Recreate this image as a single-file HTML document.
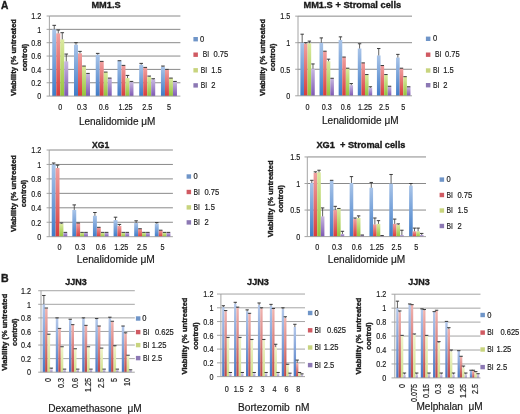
<!DOCTYPE html>
<html><head><meta charset="utf-8"><style>
html,body{margin:0;padding:0;background:#fff;}
svg{display:block;filter:blur(0.3px);}
text{font-family:"Liberation Sans", sans-serif;fill:#1a1a1a;stroke:#1a1a1a;stroke-width:0.18px;}
text[font-weight=bold]{stroke-width:0.35px;}
</style></head><body>
<svg width="520" height="414" viewBox="0 0 520 414">
<rect width="520" height="414" fill="#fff"/>
<defs>
<linearGradient id="gb" x1="0" y1="0" x2="0" y2="1"><stop offset="0" stop-color="#a9c4e8"/><stop offset="1" stop-color="#3f7cc8"/></linearGradient>
<linearGradient id="gr" x1="0" y1="0" x2="0" y2="1"><stop offset="0" stop-color="#f0a0a0"/><stop offset="1" stop-color="#d83c3c"/></linearGradient>
<linearGradient id="gg" x1="0" y1="0" x2="0" y2="1"><stop offset="0" stop-color="#dbe9a0"/><stop offset="1" stop-color="#94c43a"/></linearGradient>
<linearGradient id="gp" x1="0" y1="0" x2="0" y2="1"><stop offset="0" stop-color="#c8b8e0"/><stop offset="1" stop-color="#7e58b4"/></linearGradient>
<linearGradient id="bgb" x1="0" y1="0" x2="0" y2="1"><stop offset="0" stop-color="#b4c8ea"/><stop offset="1" stop-color="#4a78c4"/></linearGradient>
<linearGradient id="bgr" x1="0" y1="0" x2="0" y2="1"><stop offset="0" stop-color="#f0b4b0"/><stop offset="1" stop-color="#c04848"/></linearGradient>
<linearGradient id="bgg" x1="0" y1="0" x2="0" y2="1"><stop offset="0" stop-color="#f0f4cc"/><stop offset="1" stop-color="#cfe08a"/></linearGradient>
<linearGradient id="bgp" x1="0" y1="0" x2="0" y2="1"><stop offset="0" stop-color="#dcd4ea"/><stop offset="1" stop-color="#a292c6"/></linearGradient>
</defs>
<line x1="46.6" y1="96.1" x2="49.38" y2="96.1" stroke="#9a9a9a" stroke-width="0.9"/>
<line x1="49.38" y1="82.75" x2="180.4" y2="82.75" stroke="#8a8a8a" stroke-width="1"/>
<line x1="46.6" y1="82.75" x2="49.38" y2="82.75" stroke="#9a9a9a" stroke-width="0.9"/>
<line x1="49.38" y1="69.4" x2="180.4" y2="69.4" stroke="#8a8a8a" stroke-width="1"/>
<line x1="46.6" y1="69.4" x2="49.38" y2="69.4" stroke="#9a9a9a" stroke-width="0.9"/>
<line x1="49.38" y1="56.05" x2="180.4" y2="56.05" stroke="#8a8a8a" stroke-width="1"/>
<line x1="46.6" y1="56.05" x2="49.38" y2="56.05" stroke="#9a9a9a" stroke-width="0.9"/>
<line x1="49.38" y1="42.7" x2="180.4" y2="42.7" stroke="#8a8a8a" stroke-width="1"/>
<line x1="46.6" y1="42.7" x2="49.38" y2="42.7" stroke="#9a9a9a" stroke-width="0.9"/>
<line x1="49.38" y1="29.35" x2="180.4" y2="29.35" stroke="#8a8a8a" stroke-width="1"/>
<line x1="46.6" y1="29.35" x2="49.38" y2="29.35" stroke="#9a9a9a" stroke-width="0.9"/>
<line x1="49.38" y1="16" x2="180.4" y2="16" stroke="#8a8a8a" stroke-width="1"/>
<line x1="46.6" y1="16" x2="49.38" y2="16" stroke="#9a9a9a" stroke-width="0.9"/>
<text x="41.2" y="99.39" font-size="8.3" text-anchor="end" textLength="4.02" lengthAdjust="spacingAndGlyphs">0</text>
<text x="41.2" y="86.04" font-size="8.3" text-anchor="end" textLength="10.04" lengthAdjust="spacingAndGlyphs">0.2</text>
<text x="41.2" y="72.69" font-size="8.3" text-anchor="end" textLength="10.04" lengthAdjust="spacingAndGlyphs">0.4</text>
<text x="41.2" y="59.34" font-size="8.3" text-anchor="end" textLength="10.04" lengthAdjust="spacingAndGlyphs">0.6</text>
<text x="41.2" y="45.99" font-size="8.3" text-anchor="end" textLength="10.04" lengthAdjust="spacingAndGlyphs">0.8</text>
<text x="41.2" y="32.64" font-size="8.3" text-anchor="end" textLength="4.02" lengthAdjust="spacingAndGlyphs">1</text>
<text x="41.2" y="19.29" font-size="8.3" text-anchor="end" textLength="10.04" lengthAdjust="spacingAndGlyphs">1.2</text>
<rect x="52.25" y="29.35" width="4" height="66.75" fill="url(#gb)"/>
<rect x="56.25" y="33.35" width="4" height="62.74" fill="url(#gr)"/>
<rect x="60.25" y="39.36" width="4" height="56.74" fill="url(#gg)"/>
<rect x="64.25" y="61.39" width="4" height="34.71" fill="url(#gp)"/>
<line x1="54.25" y1="29.35" x2="54.25" y2="25.34" stroke="#3a3a3a" stroke-width="0.8"/>
<line x1="52.45" y1="25.34" x2="56.05" y2="25.34" stroke="#3a3a3a" stroke-width="1"/>
<line x1="58.25" y1="33.35" x2="58.25" y2="30.02" stroke="#3a3a3a" stroke-width="0.8"/>
<line x1="56.45" y1="30.02" x2="60.05" y2="30.02" stroke="#3a3a3a" stroke-width="1"/>
<line x1="62.25" y1="39.36" x2="62.25" y2="32.69" stroke="#3a3a3a" stroke-width="0.8"/>
<line x1="60.45" y1="32.69" x2="64.05" y2="32.69" stroke="#3a3a3a" stroke-width="1"/>
<line x1="66.25" y1="61.39" x2="66.25" y2="54.05" stroke="#3a3a3a" stroke-width="0.8"/>
<line x1="64.45" y1="54.05" x2="68.05" y2="54.05" stroke="#3a3a3a" stroke-width="1"/>
<rect x="73.99" y="44.7" width="4" height="51.4" fill="url(#gb)"/>
<rect x="77.99" y="53.38" width="4" height="42.72" fill="url(#gr)"/>
<rect x="81.99" y="66.06" width="4" height="30.04" fill="url(#gg)"/>
<rect x="85.99" y="74.07" width="4" height="22.03" fill="url(#gp)"/>
<line x1="75.99" y1="44.7" x2="75.99" y2="42.7" stroke="#3a3a3a" stroke-width="0.8"/>
<line x1="74.19" y1="42.7" x2="77.79" y2="42.7" stroke="#3a3a3a" stroke-width="1"/>
<line x1="79.99" y1="53.38" x2="79.99" y2="51.38" stroke="#3a3a3a" stroke-width="0.8"/>
<line x1="78.19" y1="51.38" x2="81.79" y2="51.38" stroke="#3a3a3a" stroke-width="1"/>
<line x1="82.19" y1="66.06" x2="85.79" y2="66.06" stroke="#3a3a3a" stroke-width="1"/>
<line x1="87.99" y1="74.07" x2="87.99" y2="73.41" stroke="#3a3a3a" stroke-width="0.8"/>
<line x1="86.19" y1="73.41" x2="89.79" y2="73.41" stroke="#3a3a3a" stroke-width="1"/>
<rect x="95.73" y="54.71" width="4" height="41.38" fill="url(#gb)"/>
<rect x="99.73" y="61.39" width="4" height="34.71" fill="url(#gr)"/>
<rect x="103.73" y="72.07" width="4" height="24.03" fill="url(#gg)"/>
<rect x="107.73" y="78.08" width="4" height="18.02" fill="url(#gp)"/>
<line x1="97.73" y1="54.71" x2="97.73" y2="53.38" stroke="#3a3a3a" stroke-width="0.8"/>
<line x1="95.93" y1="53.38" x2="99.53" y2="53.38" stroke="#3a3a3a" stroke-width="1"/>
<line x1="99.93" y1="61.39" x2="103.53" y2="61.39" stroke="#3a3a3a" stroke-width="1"/>
<line x1="103.93" y1="72.07" x2="107.53" y2="72.07" stroke="#3a3a3a" stroke-width="1"/>
<line x1="107.93" y1="78.08" x2="111.53" y2="78.08" stroke="#3a3a3a" stroke-width="1"/>
<rect x="117.47" y="60.72" width="4" height="35.38" fill="url(#gb)"/>
<rect x="121.47" y="65.39" width="4" height="30.71" fill="url(#gr)"/>
<rect x="125.47" y="78.08" width="4" height="18.02" fill="url(#gg)"/>
<rect x="129.47" y="82.08" width="4" height="14.02" fill="url(#gp)"/>
<line x1="117.67" y1="60.72" x2="121.27" y2="60.72" stroke="#3a3a3a" stroke-width="1"/>
<line x1="121.67" y1="65.39" x2="125.27" y2="65.39" stroke="#3a3a3a" stroke-width="1"/>
<line x1="127.47" y1="78.08" x2="127.47" y2="75.41" stroke="#3a3a3a" stroke-width="0.8"/>
<line x1="125.67" y1="75.41" x2="129.27" y2="75.41" stroke="#3a3a3a" stroke-width="1"/>
<line x1="131.47" y1="82.08" x2="131.47" y2="81.41" stroke="#3a3a3a" stroke-width="0.8"/>
<line x1="129.67" y1="81.41" x2="133.27" y2="81.41" stroke="#3a3a3a" stroke-width="1"/>
<rect x="139.21" y="64.73" width="4" height="31.37" fill="url(#gb)"/>
<rect x="143.21" y="67.4" width="4" height="28.7" fill="url(#gr)"/>
<rect x="147.21" y="76.74" width="4" height="19.36" fill="url(#gg)"/>
<rect x="151.21" y="79.41" width="4" height="16.69" fill="url(#gp)"/>
<line x1="141.21" y1="64.73" x2="141.21" y2="63.39" stroke="#3a3a3a" stroke-width="0.8"/>
<line x1="139.41" y1="63.39" x2="143.01" y2="63.39" stroke="#3a3a3a" stroke-width="1"/>
<line x1="143.41" y1="67.4" x2="147.01" y2="67.4" stroke="#3a3a3a" stroke-width="1"/>
<line x1="149.21" y1="76.74" x2="149.21" y2="76.07" stroke="#3a3a3a" stroke-width="0.8"/>
<line x1="147.41" y1="76.07" x2="151.01" y2="76.07" stroke="#3a3a3a" stroke-width="1"/>
<line x1="153.21" y1="79.41" x2="153.21" y2="78.74" stroke="#3a3a3a" stroke-width="0.8"/>
<line x1="151.41" y1="78.74" x2="155.01" y2="78.74" stroke="#3a3a3a" stroke-width="1"/>
<rect x="160.95" y="66.73" width="4" height="29.37" fill="url(#gb)"/>
<rect x="164.95" y="69.4" width="4" height="26.7" fill="url(#gr)"/>
<rect x="168.95" y="78.08" width="4" height="18.02" fill="url(#gg)"/>
<rect x="172.95" y="81.41" width="4" height="14.69" fill="url(#gp)"/>
<line x1="162.95" y1="66.73" x2="162.95" y2="66.06" stroke="#3a3a3a" stroke-width="0.8"/>
<line x1="161.15" y1="66.06" x2="164.75" y2="66.06" stroke="#3a3a3a" stroke-width="1"/>
<line x1="165.15" y1="69.4" x2="168.75" y2="69.4" stroke="#3a3a3a" stroke-width="1"/>
<line x1="169.15" y1="78.08" x2="172.75" y2="78.08" stroke="#3a3a3a" stroke-width="1"/>
<line x1="173.15" y1="81.41" x2="176.75" y2="81.41" stroke="#3a3a3a" stroke-width="1"/>
<line x1="49.38" y1="16" x2="49.38" y2="96.1" stroke="#9a9a9a" stroke-width="0.9"/>
<line x1="49.38" y1="96.1" x2="180.4" y2="96.1" stroke="#9a9a9a" stroke-width="0.9"/>
<text x="60.25" y="110" font-size="8.3" text-anchor="middle" textLength="4.02" lengthAdjust="spacingAndGlyphs">0</text>
<text x="81.99" y="110" font-size="8.3" text-anchor="middle" textLength="10.04" lengthAdjust="spacingAndGlyphs">0.3</text>
<text x="103.73" y="110" font-size="8.3" text-anchor="middle" textLength="10.04" lengthAdjust="spacingAndGlyphs">0.6</text>
<text x="125.47" y="110" font-size="8.3" text-anchor="middle" textLength="14.05" lengthAdjust="spacingAndGlyphs">1.25</text>
<text x="147.21" y="110" font-size="8.3" text-anchor="middle" textLength="10.04" lengthAdjust="spacingAndGlyphs">2.5</text>
<text x="168.95" y="110" font-size="8.3" text-anchor="middle" textLength="4.02" lengthAdjust="spacingAndGlyphs">5</text>
<rect x="193.4" y="37" width="4.5" height="4.4" fill="#6f95c8"/>
<text x="200" y="41.77" font-size="8.8" textLength="4.21" lengthAdjust="spacingAndGlyphs">0</text>
<rect x="193.4" y="52.5" width="4.5" height="4.4" fill="#d05a62"/>
<text x="202.7" y="57.27" font-size="8.8" textLength="6.4" lengthAdjust="spacingAndGlyphs">BI</text>
<text x="213.5" y="57.27" font-size="8.8" textLength="14.73" lengthAdjust="spacingAndGlyphs">0.75</text>
<rect x="193.4" y="68.1" width="4.5" height="4.4" fill="#c8d47e"/>
<text x="200.7" y="72.87" font-size="8.8" textLength="6.4" lengthAdjust="spacingAndGlyphs">BI</text>
<text x="211.2" y="72.87" font-size="8.8" textLength="10.52" lengthAdjust="spacingAndGlyphs">1.5</text>
<rect x="193.4" y="83.2" width="4.5" height="4.4" fill="#8c78b4"/>
<text x="200.7" y="87.97" font-size="8.8" textLength="6.4" lengthAdjust="spacingAndGlyphs">BI</text>
<text x="211.2" y="87.97" font-size="8.8" textLength="4.21" lengthAdjust="spacingAndGlyphs">2</text>
<text x="91.4" y="7.9" font-size="9.8" font-weight="bold" textLength="29.2" lengthAdjust="spacingAndGlyphs" xml:space="preserve">MM1.S</text>
<text transform="translate(16.3,57.5) rotate(-90)" font-size="8.0" font-weight="bold" text-anchor="middle" textLength="77.0" lengthAdjust="spacingAndGlyphs">Viability (% untreated</text>
<text transform="translate(26.5,57.5) rotate(-90)" font-size="8.0" font-weight="bold" text-anchor="middle" textLength="27.5" lengthAdjust="spacingAndGlyphs">control)</text>
<text x="78.9" y="124.5" font-size="10.1" textLength="76.5" lengthAdjust="spacingAndGlyphs" xml:space="preserve">Lenalidomide μM</text>
<line x1="295.2" y1="95.8" x2="298" y2="95.8" stroke="#9a9a9a" stroke-width="0.9"/>
<line x1="298" y1="69.25" x2="412" y2="69.25" stroke="#8a8a8a" stroke-width="1"/>
<line x1="295.2" y1="69.25" x2="298" y2="69.25" stroke="#9a9a9a" stroke-width="0.9"/>
<line x1="298" y1="42.7" x2="412" y2="42.7" stroke="#8a8a8a" stroke-width="1"/>
<line x1="295.2" y1="42.7" x2="298" y2="42.7" stroke="#9a9a9a" stroke-width="0.9"/>
<line x1="298" y1="16.15" x2="412" y2="16.15" stroke="#8a8a8a" stroke-width="1"/>
<line x1="295.2" y1="16.15" x2="298" y2="16.15" stroke="#9a9a9a" stroke-width="0.9"/>
<text x="290.3" y="99.09" font-size="8.3" text-anchor="end" textLength="4.02" lengthAdjust="spacingAndGlyphs">0</text>
<text x="290.3" y="72.54" font-size="8.3" text-anchor="end" textLength="10.04" lengthAdjust="spacingAndGlyphs">0.5</text>
<text x="290.3" y="45.99" font-size="8.3" text-anchor="end" textLength="4.02" lengthAdjust="spacingAndGlyphs">1</text>
<text x="290.3" y="19.44" font-size="8.3" text-anchor="end" textLength="10.04" lengthAdjust="spacingAndGlyphs">1.5</text>
<rect x="300.37" y="42.7" width="3.6" height="53.1" fill="url(#gb)"/>
<rect x="303.97" y="43.76" width="3.6" height="52.04" fill="url(#gr)"/>
<rect x="307.57" y="43.23" width="3.6" height="52.57" fill="url(#gg)"/>
<rect x="311.17" y="68.72" width="3.6" height="27.08" fill="url(#gp)"/>
<line x1="302.17" y1="42.7" x2="302.17" y2="34.2" stroke="#3a3a3a" stroke-width="0.8"/>
<line x1="300.47" y1="34.2" x2="303.87" y2="34.2" stroke="#3a3a3a" stroke-width="1"/>
<line x1="305.77" y1="43.76" x2="305.77" y2="42.7" stroke="#3a3a3a" stroke-width="0.8"/>
<line x1="304.07" y1="42.7" x2="307.47" y2="42.7" stroke="#3a3a3a" stroke-width="1"/>
<line x1="309.37" y1="43.23" x2="309.37" y2="41.11" stroke="#3a3a3a" stroke-width="0.8"/>
<line x1="307.67" y1="41.11" x2="311.07" y2="41.11" stroke="#3a3a3a" stroke-width="1"/>
<line x1="312.97" y1="68.72" x2="312.97" y2="63.94" stroke="#3a3a3a" stroke-width="0.8"/>
<line x1="311.27" y1="63.94" x2="314.67" y2="63.94" stroke="#3a3a3a" stroke-width="1"/>
<rect x="319.51" y="42.7" width="3.6" height="53.1" fill="url(#gb)"/>
<rect x="323.11" y="51.2" width="3.6" height="44.6" fill="url(#gr)"/>
<rect x="326.71" y="61.28" width="3.6" height="34.52" fill="url(#gg)"/>
<rect x="330.31" y="78.28" width="3.6" height="17.52" fill="url(#gp)"/>
<line x1="321.31" y1="42.7" x2="321.31" y2="37.92" stroke="#3a3a3a" stroke-width="0.8"/>
<line x1="319.61" y1="37.92" x2="323.01" y2="37.92" stroke="#3a3a3a" stroke-width="1"/>
<line x1="323.21" y1="51.2" x2="326.61" y2="51.2" stroke="#3a3a3a" stroke-width="1"/>
<line x1="328.51" y1="61.28" x2="328.51" y2="59.16" stroke="#3a3a3a" stroke-width="0.8"/>
<line x1="326.81" y1="59.16" x2="330.21" y2="59.16" stroke="#3a3a3a" stroke-width="1"/>
<line x1="330.41" y1="78.28" x2="333.81" y2="78.28" stroke="#3a3a3a" stroke-width="1"/>
<rect x="338.65" y="40.04" width="3.6" height="55.76" fill="url(#gb)"/>
<rect x="342.25" y="57.04" width="3.6" height="38.76" fill="url(#gr)"/>
<rect x="345.85" y="68.19" width="3.6" height="27.61" fill="url(#gg)"/>
<rect x="349.45" y="85.18" width="3.6" height="10.62" fill="url(#gp)"/>
<line x1="340.45" y1="40.04" x2="340.45" y2="36.86" stroke="#3a3a3a" stroke-width="0.8"/>
<line x1="338.75" y1="36.86" x2="342.15" y2="36.86" stroke="#3a3a3a" stroke-width="1"/>
<line x1="342.35" y1="57.04" x2="345.75" y2="57.04" stroke="#3a3a3a" stroke-width="1"/>
<line x1="345.95" y1="68.19" x2="349.35" y2="68.19" stroke="#3a3a3a" stroke-width="1"/>
<line x1="351.25" y1="85.18" x2="351.25" y2="83.59" stroke="#3a3a3a" stroke-width="0.8"/>
<line x1="349.55" y1="83.59" x2="352.95" y2="83.59" stroke="#3a3a3a" stroke-width="1"/>
<rect x="357.79" y="48.54" width="3.6" height="47.26" fill="url(#gb)"/>
<rect x="361.39" y="62.88" width="3.6" height="32.92" fill="url(#gr)"/>
<rect x="364.99" y="74.56" width="3.6" height="21.24" fill="url(#gg)"/>
<rect x="368.59" y="87.83" width="3.6" height="7.96" fill="url(#gp)"/>
<line x1="359.59" y1="48.54" x2="359.59" y2="43.76" stroke="#3a3a3a" stroke-width="0.8"/>
<line x1="357.89" y1="43.76" x2="361.29" y2="43.76" stroke="#3a3a3a" stroke-width="1"/>
<line x1="361.49" y1="62.88" x2="364.89" y2="62.88" stroke="#3a3a3a" stroke-width="1"/>
<line x1="365.09" y1="74.56" x2="368.49" y2="74.56" stroke="#3a3a3a" stroke-width="1"/>
<line x1="370.39" y1="87.83" x2="370.39" y2="86.77" stroke="#3a3a3a" stroke-width="0.8"/>
<line x1="368.69" y1="86.77" x2="372.09" y2="86.77" stroke="#3a3a3a" stroke-width="1"/>
<rect x="376.93" y="55.44" width="3.6" height="40.36" fill="url(#gb)"/>
<rect x="380.53" y="65.53" width="3.6" height="30.27" fill="url(#gr)"/>
<rect x="384.13" y="74.56" width="3.6" height="21.24" fill="url(#gg)"/>
<rect x="387.73" y="86.24" width="3.6" height="9.56" fill="url(#gp)"/>
<line x1="378.73" y1="55.44" x2="378.73" y2="48.54" stroke="#3a3a3a" stroke-width="0.8"/>
<line x1="377.03" y1="48.54" x2="380.43" y2="48.54" stroke="#3a3a3a" stroke-width="1"/>
<line x1="380.63" y1="65.53" x2="384.03" y2="65.53" stroke="#3a3a3a" stroke-width="1"/>
<line x1="384.23" y1="74.56" x2="387.63" y2="74.56" stroke="#3a3a3a" stroke-width="1"/>
<line x1="387.83" y1="86.24" x2="391.23" y2="86.24" stroke="#3a3a3a" stroke-width="1"/>
<rect x="396.07" y="57.57" width="3.6" height="38.23" fill="url(#gb)"/>
<rect x="399.67" y="68.19" width="3.6" height="27.61" fill="url(#gr)"/>
<rect x="403.27" y="76.68" width="3.6" height="19.12" fill="url(#gg)"/>
<rect x="406.87" y="86.77" width="3.6" height="9.03" fill="url(#gp)"/>
<line x1="397.87" y1="57.57" x2="397.87" y2="54.38" stroke="#3a3a3a" stroke-width="0.8"/>
<line x1="396.17" y1="54.38" x2="399.57" y2="54.38" stroke="#3a3a3a" stroke-width="1"/>
<line x1="399.77" y1="68.19" x2="403.17" y2="68.19" stroke="#3a3a3a" stroke-width="1"/>
<line x1="403.37" y1="76.68" x2="406.77" y2="76.68" stroke="#3a3a3a" stroke-width="1"/>
<line x1="406.97" y1="86.77" x2="410.37" y2="86.77" stroke="#3a3a3a" stroke-width="1"/>
<line x1="298" y1="16.15" x2="298" y2="95.8" stroke="#9a9a9a" stroke-width="0.9"/>
<line x1="298" y1="95.8" x2="412" y2="95.8" stroke="#9a9a9a" stroke-width="0.9"/>
<text x="307.57" y="109.8" font-size="8.3" text-anchor="middle" textLength="4.02" lengthAdjust="spacingAndGlyphs">0</text>
<text x="326.71" y="109.8" font-size="8.3" text-anchor="middle" textLength="10.04" lengthAdjust="spacingAndGlyphs">0.3</text>
<text x="345.85" y="109.8" font-size="8.3" text-anchor="middle" textLength="10.04" lengthAdjust="spacingAndGlyphs">0.6</text>
<text x="364.99" y="109.8" font-size="8.3" text-anchor="middle" textLength="14.05" lengthAdjust="spacingAndGlyphs">1.25</text>
<text x="384.13" y="109.8" font-size="8.3" text-anchor="middle" textLength="10.04" lengthAdjust="spacingAndGlyphs">2.5</text>
<text x="403.27" y="109.8" font-size="8.3" text-anchor="middle" textLength="4.02" lengthAdjust="spacingAndGlyphs">5</text>
<rect x="425.9" y="36.6" width="4.5" height="4.4" fill="#6f95c8"/>
<text x="433.1" y="41.37" font-size="8.8" textLength="4.21" lengthAdjust="spacingAndGlyphs">0</text>
<rect x="425.9" y="52.5" width="4.5" height="4.4" fill="#d05a62"/>
<text x="435.1" y="57.27" font-size="8.8" textLength="6.4" lengthAdjust="spacingAndGlyphs">BI</text>
<text x="445" y="57.27" font-size="8.8" textLength="14.73" lengthAdjust="spacingAndGlyphs">0.75</text>
<rect x="425.9" y="68.3" width="4.5" height="4.4" fill="#c8d47e"/>
<text x="433.1" y="73.07" font-size="8.8" textLength="6.4" lengthAdjust="spacingAndGlyphs">BI</text>
<text x="443.2" y="73.07" font-size="8.8" textLength="10.52" lengthAdjust="spacingAndGlyphs">1.5</text>
<rect x="425.9" y="83" width="4.5" height="4.4" fill="#8c78b4"/>
<text x="433.1" y="87.77" font-size="8.8" textLength="6.4" lengthAdjust="spacingAndGlyphs">BI</text>
<text x="443.2" y="87.77" font-size="8.8" textLength="4.21" lengthAdjust="spacingAndGlyphs">2</text>
<text x="303.4" y="7.9" font-size="9.8" font-weight="bold" textLength="97.8" lengthAdjust="spacingAndGlyphs" xml:space="preserve">MM1.S + Stromal cells</text>
<text transform="translate(265.2,57.4) rotate(-90)" font-size="8.0" font-weight="bold" text-anchor="middle" textLength="77.0" lengthAdjust="spacingAndGlyphs">Viability (% untreated</text>
<text transform="translate(275.3,57.4) rotate(-90)" font-size="8.0" font-weight="bold" text-anchor="middle" textLength="27.5" lengthAdjust="spacingAndGlyphs">control)</text>
<text x="322" y="124" font-size="10.1" textLength="76.6" lengthAdjust="spacingAndGlyphs" xml:space="preserve">Lenalidomide μM</text>
<line x1="46.6" y1="236.7" x2="49.2" y2="236.7" stroke="#9a9a9a" stroke-width="0.9"/>
<line x1="49.2" y1="222.25" x2="172.9" y2="222.25" stroke="#8a8a8a" stroke-width="1"/>
<line x1="46.6" y1="222.25" x2="49.2" y2="222.25" stroke="#9a9a9a" stroke-width="0.9"/>
<line x1="49.2" y1="207.8" x2="172.9" y2="207.8" stroke="#8a8a8a" stroke-width="1"/>
<line x1="46.6" y1="207.8" x2="49.2" y2="207.8" stroke="#9a9a9a" stroke-width="0.9"/>
<line x1="49.2" y1="193.35" x2="172.9" y2="193.35" stroke="#8a8a8a" stroke-width="1"/>
<line x1="46.6" y1="193.35" x2="49.2" y2="193.35" stroke="#9a9a9a" stroke-width="0.9"/>
<line x1="49.2" y1="178.9" x2="172.9" y2="178.9" stroke="#8a8a8a" stroke-width="1"/>
<line x1="46.6" y1="178.9" x2="49.2" y2="178.9" stroke="#9a9a9a" stroke-width="0.9"/>
<line x1="49.2" y1="164.45" x2="172.9" y2="164.45" stroke="#8a8a8a" stroke-width="1"/>
<line x1="46.6" y1="164.45" x2="49.2" y2="164.45" stroke="#9a9a9a" stroke-width="0.9"/>
<line x1="49.2" y1="150" x2="172.9" y2="150" stroke="#8a8a8a" stroke-width="1"/>
<line x1="46.6" y1="150" x2="49.2" y2="150" stroke="#9a9a9a" stroke-width="0.9"/>
<text x="41.2" y="239.99" font-size="8.3" text-anchor="end" textLength="4.02" lengthAdjust="spacingAndGlyphs">0</text>
<text x="41.2" y="225.54" font-size="8.3" text-anchor="end" textLength="10.04" lengthAdjust="spacingAndGlyphs">0.2</text>
<text x="41.2" y="211.09" font-size="8.3" text-anchor="end" textLength="10.04" lengthAdjust="spacingAndGlyphs">0.4</text>
<text x="41.2" y="196.64" font-size="8.3" text-anchor="end" textLength="10.04" lengthAdjust="spacingAndGlyphs">0.6</text>
<text x="41.2" y="182.19" font-size="8.3" text-anchor="end" textLength="10.04" lengthAdjust="spacingAndGlyphs">0.8</text>
<text x="41.2" y="167.74" font-size="8.3" text-anchor="end" textLength="4.02" lengthAdjust="spacingAndGlyphs">1</text>
<text x="41.2" y="153.29" font-size="8.3" text-anchor="end" textLength="10.04" lengthAdjust="spacingAndGlyphs">1.2</text>
<rect x="51.71" y="164.45" width="3.9" height="72.25" fill="url(#gb)"/>
<rect x="55.61" y="168.06" width="3.9" height="68.64" fill="url(#gr)"/>
<rect x="59.51" y="223.69" width="3.9" height="13" fill="url(#gg)"/>
<rect x="63.41" y="232.36" width="3.9" height="4.33" fill="url(#gp)"/>
<line x1="53.66" y1="164.45" x2="53.66" y2="163" stroke="#3a3a3a" stroke-width="0.8"/>
<line x1="51.91" y1="163" x2="55.41" y2="163" stroke="#3a3a3a" stroke-width="1"/>
<line x1="57.56" y1="168.06" x2="57.56" y2="165.17" stroke="#3a3a3a" stroke-width="0.8"/>
<line x1="55.81" y1="165.17" x2="59.31" y2="165.17" stroke="#3a3a3a" stroke-width="1"/>
<line x1="61.46" y1="223.69" x2="61.46" y2="222.97" stroke="#3a3a3a" stroke-width="0.8"/>
<line x1="59.71" y1="222.97" x2="63.21" y2="222.97" stroke="#3a3a3a" stroke-width="1"/>
<line x1="63.61" y1="232.36" x2="67.11" y2="232.36" stroke="#3a3a3a" stroke-width="1"/>
<rect x="72.33" y="209.97" width="3.9" height="26.73" fill="url(#gb)"/>
<rect x="76.23" y="222.97" width="3.9" height="13.73" fill="url(#gr)"/>
<rect x="80.13" y="232.36" width="3.9" height="4.33" fill="url(#gg)"/>
<rect x="84.03" y="232.36" width="3.9" height="4.33" fill="url(#gp)"/>
<line x1="74.28" y1="209.97" x2="74.28" y2="204.91" stroke="#3a3a3a" stroke-width="0.8"/>
<line x1="72.53" y1="204.91" x2="76.03" y2="204.91" stroke="#3a3a3a" stroke-width="1"/>
<line x1="76.43" y1="222.97" x2="79.93" y2="222.97" stroke="#3a3a3a" stroke-width="1"/>
<line x1="80.33" y1="232.36" x2="83.83" y2="232.36" stroke="#3a3a3a" stroke-width="1"/>
<line x1="84.23" y1="232.36" x2="87.73" y2="232.36" stroke="#3a3a3a" stroke-width="1"/>
<rect x="92.95" y="215.75" width="3.9" height="20.95" fill="url(#gb)"/>
<rect x="96.85" y="227.31" width="3.9" height="9.39" fill="url(#gr)"/>
<rect x="100.75" y="232.36" width="3.9" height="4.33" fill="url(#gg)"/>
<rect x="104.65" y="232.36" width="3.9" height="4.33" fill="url(#gp)"/>
<line x1="94.9" y1="215.75" x2="94.9" y2="212.5" stroke="#3a3a3a" stroke-width="0.8"/>
<line x1="93.15" y1="212.5" x2="96.65" y2="212.5" stroke="#3a3a3a" stroke-width="1"/>
<line x1="97.05" y1="227.31" x2="100.55" y2="227.31" stroke="#3a3a3a" stroke-width="1"/>
<line x1="100.95" y1="232.36" x2="104.45" y2="232.36" stroke="#3a3a3a" stroke-width="1"/>
<line x1="104.85" y1="232.36" x2="108.35" y2="232.36" stroke="#3a3a3a" stroke-width="1"/>
<rect x="113.57" y="220.08" width="3.9" height="16.62" fill="url(#gb)"/>
<rect x="117.47" y="225.86" width="3.9" height="10.84" fill="url(#gr)"/>
<rect x="121.37" y="232.36" width="3.9" height="4.33" fill="url(#gg)"/>
<rect x="125.27" y="232.36" width="3.9" height="4.33" fill="url(#gp)"/>
<line x1="115.52" y1="220.08" x2="115.52" y2="217.19" stroke="#3a3a3a" stroke-width="0.8"/>
<line x1="113.77" y1="217.19" x2="117.27" y2="217.19" stroke="#3a3a3a" stroke-width="1"/>
<line x1="119.42" y1="225.86" x2="119.42" y2="224.42" stroke="#3a3a3a" stroke-width="0.8"/>
<line x1="117.67" y1="224.42" x2="121.17" y2="224.42" stroke="#3a3a3a" stroke-width="1"/>
<line x1="121.57" y1="232.36" x2="125.07" y2="232.36" stroke="#3a3a3a" stroke-width="1"/>
<line x1="125.47" y1="232.36" x2="128.97" y2="232.36" stroke="#3a3a3a" stroke-width="1"/>
<rect x="134.19" y="222.97" width="3.9" height="13.73" fill="url(#gb)"/>
<rect x="138.09" y="228.75" width="3.9" height="7.95" fill="url(#gr)"/>
<rect x="141.99" y="232.36" width="3.9" height="4.33" fill="url(#gg)"/>
<rect x="145.89" y="232.36" width="3.9" height="4.33" fill="url(#gp)"/>
<line x1="136.14" y1="222.97" x2="136.14" y2="220.8" stroke="#3a3a3a" stroke-width="0.8"/>
<line x1="134.39" y1="220.8" x2="137.89" y2="220.8" stroke="#3a3a3a" stroke-width="1"/>
<line x1="138.29" y1="228.75" x2="141.79" y2="228.75" stroke="#3a3a3a" stroke-width="1"/>
<line x1="142.19" y1="232.36" x2="145.69" y2="232.36" stroke="#3a3a3a" stroke-width="1"/>
<line x1="146.09" y1="232.36" x2="149.59" y2="232.36" stroke="#3a3a3a" stroke-width="1"/>
<rect x="154.81" y="223.69" width="3.9" height="13" fill="url(#gb)"/>
<rect x="158.71" y="230.2" width="3.9" height="6.5" fill="url(#gr)"/>
<rect x="162.61" y="232.36" width="3.9" height="4.33" fill="url(#gg)"/>
<rect x="166.51" y="232.36" width="3.9" height="4.33" fill="url(#gp)"/>
<line x1="156.76" y1="223.69" x2="156.76" y2="222.61" stroke="#3a3a3a" stroke-width="0.8"/>
<line x1="155.01" y1="222.61" x2="158.51" y2="222.61" stroke="#3a3a3a" stroke-width="1"/>
<line x1="158.91" y1="230.2" x2="162.41" y2="230.2" stroke="#3a3a3a" stroke-width="1"/>
<line x1="162.81" y1="232.36" x2="166.31" y2="232.36" stroke="#3a3a3a" stroke-width="1"/>
<line x1="166.71" y1="232.36" x2="170.21" y2="232.36" stroke="#3a3a3a" stroke-width="1"/>
<line x1="49.2" y1="150" x2="49.2" y2="236.7" stroke="#9a9a9a" stroke-width="0.9"/>
<line x1="49.2" y1="236.7" x2="172.9" y2="236.7" stroke="#9a9a9a" stroke-width="0.9"/>
<text x="59.51" y="250.4" font-size="8.3" text-anchor="middle" textLength="4.02" lengthAdjust="spacingAndGlyphs">0</text>
<text x="80.13" y="250.4" font-size="8.3" text-anchor="middle" textLength="10.04" lengthAdjust="spacingAndGlyphs">0.3</text>
<text x="100.75" y="250.4" font-size="8.3" text-anchor="middle" textLength="10.04" lengthAdjust="spacingAndGlyphs">0.6</text>
<text x="121.37" y="250.4" font-size="8.3" text-anchor="middle" textLength="14.05" lengthAdjust="spacingAndGlyphs">1.25</text>
<text x="141.99" y="250.4" font-size="8.3" text-anchor="middle" textLength="10.04" lengthAdjust="spacingAndGlyphs">2.5</text>
<text x="162.61" y="250.4" font-size="8.3" text-anchor="middle" textLength="4.02" lengthAdjust="spacingAndGlyphs">5</text>
<rect x="186.6" y="174.3" width="4.5" height="4.4" fill="#6f95c8"/>
<text x="193.6" y="179.07" font-size="8.8" textLength="4.21" lengthAdjust="spacingAndGlyphs">0</text>
<rect x="186.6" y="189.8" width="4.5" height="4.4" fill="#d05a62"/>
<text x="193.6" y="194.57" font-size="8.8" textLength="6.4" lengthAdjust="spacingAndGlyphs">BI</text>
<text x="204.4" y="194.57" font-size="8.8" textLength="14.73" lengthAdjust="spacingAndGlyphs">0.75</text>
<rect x="186.6" y="205.2" width="4.5" height="4.4" fill="#c8d47e"/>
<text x="193.6" y="209.97" font-size="8.8" textLength="6.4" lengthAdjust="spacingAndGlyphs">BI</text>
<text x="204.4" y="209.97" font-size="8.8" textLength="10.52" lengthAdjust="spacingAndGlyphs">1.5</text>
<rect x="186.6" y="220.2" width="4.5" height="4.4" fill="#8c78b4"/>
<text x="193.6" y="224.97" font-size="8.8" textLength="6.4" lengthAdjust="spacingAndGlyphs">BI</text>
<text x="204.4" y="224.97" font-size="8.8" textLength="4.21" lengthAdjust="spacingAndGlyphs">2</text>
<text x="92.1" y="147.7" font-size="9.6" font-weight="bold" textLength="17.2" lengthAdjust="spacingAndGlyphs" xml:space="preserve">XG1</text>
<text transform="translate(16.3,193.5) rotate(-90)" font-size="8.0" font-weight="bold" text-anchor="middle" textLength="77.0" lengthAdjust="spacingAndGlyphs">Viability (% untreated</text>
<text transform="translate(26.2,193.5) rotate(-90)" font-size="8.0" font-weight="bold" text-anchor="middle" textLength="27.5" lengthAdjust="spacingAndGlyphs">control)</text>
<text x="76.8" y="263.1" font-size="10.1" textLength="78.1" lengthAdjust="spacingAndGlyphs" xml:space="preserve">Lenalidomide μM</text>
<line x1="304.5" y1="236.6" x2="307.3" y2="236.6" stroke="#9a9a9a" stroke-width="0.9"/>
<line x1="307.3" y1="210.05" x2="426" y2="210.05" stroke="#8a8a8a" stroke-width="1"/>
<line x1="304.5" y1="210.05" x2="307.3" y2="210.05" stroke="#9a9a9a" stroke-width="0.9"/>
<line x1="307.3" y1="183.5" x2="426" y2="183.5" stroke="#8a8a8a" stroke-width="1"/>
<line x1="304.5" y1="183.5" x2="307.3" y2="183.5" stroke="#9a9a9a" stroke-width="0.9"/>
<line x1="307.3" y1="156.95" x2="426" y2="156.95" stroke="#8a8a8a" stroke-width="1"/>
<line x1="304.5" y1="156.95" x2="307.3" y2="156.95" stroke="#9a9a9a" stroke-width="0.9"/>
<text x="300.2" y="239.89" font-size="8.3" text-anchor="end" textLength="4.02" lengthAdjust="spacingAndGlyphs">0</text>
<text x="300.2" y="213.34" font-size="8.3" text-anchor="end" textLength="10.04" lengthAdjust="spacingAndGlyphs">0.5</text>
<text x="300.2" y="186.79" font-size="8.3" text-anchor="end" textLength="4.02" lengthAdjust="spacingAndGlyphs">1</text>
<text x="300.2" y="160.24" font-size="8.3" text-anchor="end" textLength="10.04" lengthAdjust="spacingAndGlyphs">1.5</text>
<rect x="310.01" y="182.97" width="3.6" height="53.63" fill="url(#gb)"/>
<rect x="313.61" y="172.88" width="3.6" height="63.72" fill="url(#gr)"/>
<rect x="317.21" y="172.35" width="3.6" height="64.25" fill="url(#gg)"/>
<rect x="320.81" y="216.42" width="3.6" height="20.18" fill="url(#gp)"/>
<line x1="311.81" y1="182.97" x2="311.81" y2="180.31" stroke="#3a3a3a" stroke-width="0.8"/>
<line x1="310.11" y1="180.31" x2="313.51" y2="180.31" stroke="#3a3a3a" stroke-width="1"/>
<line x1="315.41" y1="172.88" x2="315.41" y2="171.82" stroke="#3a3a3a" stroke-width="0.8"/>
<line x1="313.71" y1="171.82" x2="317.11" y2="171.82" stroke="#3a3a3a" stroke-width="1"/>
<line x1="319.01" y1="172.35" x2="319.01" y2="170.22" stroke="#3a3a3a" stroke-width="0.8"/>
<line x1="317.31" y1="170.22" x2="320.71" y2="170.22" stroke="#3a3a3a" stroke-width="1"/>
<line x1="322.61" y1="216.42" x2="322.61" y2="207.93" stroke="#3a3a3a" stroke-width="0.8"/>
<line x1="320.91" y1="207.93" x2="324.31" y2="207.93" stroke="#3a3a3a" stroke-width="1"/>
<rect x="329.83" y="180.31" width="3.6" height="56.29" fill="url(#gb)"/>
<rect x="333.43" y="210.05" width="3.6" height="26.55" fill="url(#gr)"/>
<rect x="337.03" y="208.46" width="3.6" height="28.14" fill="url(#gg)"/>
<rect x="340.63" y="233.94" width="3.6" height="2.66" fill="url(#gp)"/>
<line x1="329.93" y1="180.31" x2="333.33" y2="180.31" stroke="#3a3a3a" stroke-width="1"/>
<line x1="335.23" y1="210.05" x2="335.23" y2="206.33" stroke="#3a3a3a" stroke-width="0.8"/>
<line x1="333.53" y1="206.33" x2="336.93" y2="206.33" stroke="#3a3a3a" stroke-width="1"/>
<line x1="337.13" y1="208.46" x2="340.53" y2="208.46" stroke="#3a3a3a" stroke-width="1"/>
<line x1="342.43" y1="233.94" x2="342.43" y2="231.29" stroke="#3a3a3a" stroke-width="0.8"/>
<line x1="340.73" y1="231.29" x2="344.13" y2="231.29" stroke="#3a3a3a" stroke-width="1"/>
<rect x="349.65" y="182.97" width="3.6" height="53.63" fill="url(#gb)"/>
<rect x="353.25" y="219.08" width="3.6" height="17.52" fill="url(#gr)"/>
<rect x="356.85" y="218.01" width="3.6" height="18.59" fill="url(#gg)"/>
<rect x="360.45" y="235.01" width="3.6" height="1.59" fill="url(#gp)"/>
<line x1="351.45" y1="182.97" x2="351.45" y2="176.6" stroke="#3a3a3a" stroke-width="0.8"/>
<line x1="349.75" y1="176.6" x2="353.15" y2="176.6" stroke="#3a3a3a" stroke-width="1"/>
<line x1="355.05" y1="219.08" x2="355.05" y2="218.01" stroke="#3a3a3a" stroke-width="0.8"/>
<line x1="353.35" y1="218.01" x2="356.75" y2="218.01" stroke="#3a3a3a" stroke-width="1"/>
<line x1="358.65" y1="218.01" x2="358.65" y2="215.89" stroke="#3a3a3a" stroke-width="0.8"/>
<line x1="356.95" y1="215.89" x2="360.35" y2="215.89" stroke="#3a3a3a" stroke-width="1"/>
<line x1="360.55" y1="235.01" x2="363.95" y2="235.01" stroke="#3a3a3a" stroke-width="1"/>
<rect x="369.47" y="187.75" width="3.6" height="48.85" fill="url(#gb)"/>
<rect x="373.07" y="224.39" width="3.6" height="12.21" fill="url(#gr)"/>
<rect x="376.67" y="223.86" width="3.6" height="12.74" fill="url(#gg)"/>
<rect x="380.27" y="235.54" width="3.6" height="1.06" fill="url(#gp)"/>
<line x1="371.27" y1="187.75" x2="371.27" y2="182.44" stroke="#3a3a3a" stroke-width="0.8"/>
<line x1="369.57" y1="182.44" x2="372.97" y2="182.44" stroke="#3a3a3a" stroke-width="1"/>
<line x1="374.87" y1="224.39" x2="374.87" y2="218.01" stroke="#3a3a3a" stroke-width="0.8"/>
<line x1="373.17" y1="218.01" x2="376.57" y2="218.01" stroke="#3a3a3a" stroke-width="1"/>
<line x1="378.47" y1="223.86" x2="378.47" y2="220.67" stroke="#3a3a3a" stroke-width="0.8"/>
<line x1="376.77" y1="220.67" x2="380.17" y2="220.67" stroke="#3a3a3a" stroke-width="1"/>
<line x1="380.37" y1="235.54" x2="383.77" y2="235.54" stroke="#3a3a3a" stroke-width="1"/>
<rect x="389.29" y="183.5" width="3.6" height="53.1" fill="url(#gb)"/>
<rect x="392.89" y="223.86" width="3.6" height="12.74" fill="url(#gr)"/>
<rect x="396.49" y="224.92" width="3.6" height="11.68" fill="url(#gg)"/>
<rect x="400.09" y="235.01" width="3.6" height="1.59" fill="url(#gp)"/>
<line x1="391.09" y1="183.5" x2="391.09" y2="174.47" stroke="#3a3a3a" stroke-width="0.8"/>
<line x1="389.39" y1="174.47" x2="392.79" y2="174.47" stroke="#3a3a3a" stroke-width="1"/>
<line x1="394.69" y1="223.86" x2="394.69" y2="219.08" stroke="#3a3a3a" stroke-width="0.8"/>
<line x1="392.99" y1="219.08" x2="396.39" y2="219.08" stroke="#3a3a3a" stroke-width="1"/>
<line x1="398.29" y1="224.92" x2="398.29" y2="223.86" stroke="#3a3a3a" stroke-width="0.8"/>
<line x1="396.59" y1="223.86" x2="399.99" y2="223.86" stroke="#3a3a3a" stroke-width="1"/>
<line x1="401.89" y1="235.01" x2="401.89" y2="230.23" stroke="#3a3a3a" stroke-width="0.8"/>
<line x1="400.19" y1="230.23" x2="403.59" y2="230.23" stroke="#3a3a3a" stroke-width="1"/>
<rect x="409.11" y="185.62" width="3.6" height="50.98" fill="url(#gb)"/>
<rect x="412.71" y="231.29" width="3.6" height="5.31" fill="url(#gr)"/>
<rect x="416.31" y="231.29" width="3.6" height="5.31" fill="url(#gg)"/>
<rect x="419.91" y="235.01" width="3.6" height="1.59" fill="url(#gp)"/>
<line x1="410.91" y1="185.62" x2="410.91" y2="183.5" stroke="#3a3a3a" stroke-width="0.8"/>
<line x1="409.21" y1="183.5" x2="412.61" y2="183.5" stroke="#3a3a3a" stroke-width="1"/>
<line x1="414.51" y1="231.29" x2="414.51" y2="228.1" stroke="#3a3a3a" stroke-width="0.8"/>
<line x1="412.81" y1="228.1" x2="416.21" y2="228.1" stroke="#3a3a3a" stroke-width="1"/>
<line x1="418.11" y1="231.29" x2="418.11" y2="228.1" stroke="#3a3a3a" stroke-width="0.8"/>
<line x1="416.41" y1="228.1" x2="419.81" y2="228.1" stroke="#3a3a3a" stroke-width="1"/>
<line x1="421.71" y1="235.01" x2="421.71" y2="233.41" stroke="#3a3a3a" stroke-width="0.8"/>
<line x1="420.01" y1="233.41" x2="423.41" y2="233.41" stroke="#3a3a3a" stroke-width="1"/>
<line x1="307.3" y1="156.95" x2="307.3" y2="236.6" stroke="#9a9a9a" stroke-width="0.9"/>
<line x1="307.3" y1="236.6" x2="426" y2="236.6" stroke="#9a9a9a" stroke-width="0.9"/>
<text x="317.21" y="250.4" font-size="8.3" text-anchor="middle" textLength="4.02" lengthAdjust="spacingAndGlyphs">0</text>
<text x="337.03" y="250.4" font-size="8.3" text-anchor="middle" textLength="10.04" lengthAdjust="spacingAndGlyphs">0.3</text>
<text x="356.85" y="250.4" font-size="8.3" text-anchor="middle" textLength="10.04" lengthAdjust="spacingAndGlyphs">0.6</text>
<text x="376.67" y="250.4" font-size="8.3" text-anchor="middle" textLength="14.05" lengthAdjust="spacingAndGlyphs">1.25</text>
<text x="396.49" y="250.4" font-size="8.3" text-anchor="middle" textLength="10.04" lengthAdjust="spacingAndGlyphs">2.5</text>
<text x="416.31" y="250.4" font-size="8.3" text-anchor="middle" textLength="4.02" lengthAdjust="spacingAndGlyphs">5</text>
<rect x="439.6" y="177.4" width="4.5" height="4.4" fill="#6f95c8"/>
<text x="446.6" y="182.17" font-size="8.8" textLength="4.21" lengthAdjust="spacingAndGlyphs">0</text>
<rect x="439.6" y="192.8" width="4.5" height="4.4" fill="#d05a62"/>
<text x="446.6" y="197.57" font-size="8.8" textLength="6.4" lengthAdjust="spacingAndGlyphs">BI</text>
<text x="457.4" y="197.57" font-size="8.8" textLength="14.73" lengthAdjust="spacingAndGlyphs">0.75</text>
<rect x="439.6" y="208.3" width="4.5" height="4.4" fill="#c8d47e"/>
<text x="446.6" y="213.07" font-size="8.8" textLength="6.4" lengthAdjust="spacingAndGlyphs">BI</text>
<text x="457.4" y="213.07" font-size="8.8" textLength="10.52" lengthAdjust="spacingAndGlyphs">1.5</text>
<rect x="439.6" y="223.8" width="4.5" height="4.4" fill="#8c78b4"/>
<text x="446.6" y="228.57" font-size="8.8" textLength="6.4" lengthAdjust="spacingAndGlyphs">BI</text>
<text x="457.4" y="228.57" font-size="8.8" textLength="4.21" lengthAdjust="spacingAndGlyphs">2</text>
<text x="316.4" y="147.7" font-size="9.8" font-weight="bold" textLength="89" lengthAdjust="spacingAndGlyphs" xml:space="preserve">XG1  + Stromal cells</text>
<text transform="translate(273.3,198.8) rotate(-90)" font-size="8.0" font-weight="bold" text-anchor="middle" textLength="77.0" lengthAdjust="spacingAndGlyphs">Viability (% untreated</text>
<text transform="translate(283,198.8) rotate(-90)" font-size="8.0" font-weight="bold" text-anchor="middle" textLength="27.5" lengthAdjust="spacingAndGlyphs">control)</text>
<text x="327.8" y="262.6" font-size="10.1" textLength="77.5" lengthAdjust="spacingAndGlyphs" xml:space="preserve">Lenalidomide μM</text>
<line x1="38.2" y1="372.2" x2="41" y2="372.2" stroke="#9a9a9a" stroke-width="0.9"/>
<line x1="41" y1="358.62" x2="134.8" y2="358.62" stroke="#a4a4a4" stroke-width="1"/>
<line x1="38.2" y1="358.62" x2="41" y2="358.62" stroke="#9a9a9a" stroke-width="0.9"/>
<line x1="41" y1="345.04" x2="134.8" y2="345.04" stroke="#a4a4a4" stroke-width="1"/>
<line x1="38.2" y1="345.04" x2="41" y2="345.04" stroke="#9a9a9a" stroke-width="0.9"/>
<line x1="41" y1="331.46" x2="134.8" y2="331.46" stroke="#a4a4a4" stroke-width="1"/>
<line x1="38.2" y1="331.46" x2="41" y2="331.46" stroke="#9a9a9a" stroke-width="0.9"/>
<line x1="41" y1="317.88" x2="134.8" y2="317.88" stroke="#a4a4a4" stroke-width="1"/>
<line x1="38.2" y1="317.88" x2="41" y2="317.88" stroke="#9a9a9a" stroke-width="0.9"/>
<line x1="41" y1="304.3" x2="134.8" y2="304.3" stroke="#a4a4a4" stroke-width="1"/>
<line x1="38.2" y1="304.3" x2="41" y2="304.3" stroke="#9a9a9a" stroke-width="0.9"/>
<line x1="41" y1="290.72" x2="134.8" y2="290.72" stroke="#a4a4a4" stroke-width="1"/>
<line x1="38.2" y1="290.72" x2="41" y2="290.72" stroke="#9a9a9a" stroke-width="0.9"/>
<text x="31" y="375.49" font-size="8.3" text-anchor="end" textLength="4.02" lengthAdjust="spacingAndGlyphs">0</text>
<text x="31" y="361.91" font-size="8.3" text-anchor="end" textLength="10.04" lengthAdjust="spacingAndGlyphs">0.2</text>
<text x="31" y="348.33" font-size="8.3" text-anchor="end" textLength="10.04" lengthAdjust="spacingAndGlyphs">0.4</text>
<text x="31" y="334.75" font-size="8.3" text-anchor="end" textLength="10.04" lengthAdjust="spacingAndGlyphs">0.6</text>
<text x="31" y="321.17" font-size="8.3" text-anchor="end" textLength="10.04" lengthAdjust="spacingAndGlyphs">0.8</text>
<text x="31" y="307.59" font-size="8.3" text-anchor="end" textLength="4.02" lengthAdjust="spacingAndGlyphs">1</text>
<text x="31" y="294.01" font-size="8.3" text-anchor="end" textLength="10.04" lengthAdjust="spacingAndGlyphs">1.2</text>
<rect x="42.6" y="304.3" width="2.5" height="67.9" fill="url(#bgb)"/>
<rect x="45.1" y="308.37" width="2.5" height="63.83" fill="url(#bgr)"/>
<rect x="47.6" y="334.85" width="2.5" height="37.35" fill="url(#bgg)"/>
<rect x="50.1" y="368.81" width="2.5" height="3.4" fill="url(#bgp)"/>
<line x1="43.85" y1="304.3" x2="43.85" y2="295.47" stroke="#3a3a3a" stroke-width="0.8"/>
<line x1="42.15" y1="295.47" x2="45.55" y2="295.47" stroke="#3a3a3a" stroke-width="1"/>
<line x1="44.65" y1="308.03" x2="48.05" y2="308.03" stroke="#3a3a3a" stroke-width="1"/>
<line x1="48.85" y1="334.85" x2="48.85" y2="334.18" stroke="#3a3a3a" stroke-width="0.8"/>
<line x1="47.15" y1="334.18" x2="50.55" y2="334.18" stroke="#3a3a3a" stroke-width="1"/>
<line x1="51.35" y1="368.81" x2="51.35" y2="368.13" stroke="#3a3a3a" stroke-width="0.8"/>
<line x1="49.65" y1="368.13" x2="53.05" y2="368.13" stroke="#3a3a3a" stroke-width="1"/>
<rect x="55.8" y="318.56" width="2.5" height="53.64" fill="url(#bgb)"/>
<rect x="58.3" y="328.74" width="2.5" height="43.46" fill="url(#bgr)"/>
<rect x="60.8" y="347.08" width="2.5" height="25.12" fill="url(#bgg)"/>
<rect x="63.3" y="369.48" width="2.5" height="2.72" fill="url(#bgp)"/>
<line x1="57.05" y1="318.56" x2="57.05" y2="317.88" stroke="#3a3a3a" stroke-width="0.8"/>
<line x1="55.35" y1="317.88" x2="58.75" y2="317.88" stroke="#3a3a3a" stroke-width="1"/>
<line x1="57.85" y1="328.4" x2="61.25" y2="328.4" stroke="#3a3a3a" stroke-width="1"/>
<line x1="60.35" y1="346.74" x2="63.75" y2="346.74" stroke="#3a3a3a" stroke-width="1"/>
<line x1="62.85" y1="369.14" x2="66.25" y2="369.14" stroke="#3a3a3a" stroke-width="1"/>
<rect x="69" y="319.92" width="2.5" height="52.28" fill="url(#bgb)"/>
<rect x="71.5" y="324.67" width="2.5" height="47.53" fill="url(#bgr)"/>
<rect x="74" y="349.11" width="2.5" height="23.09" fill="url(#bgg)"/>
<rect x="76.5" y="369.48" width="2.5" height="2.72" fill="url(#bgp)"/>
<line x1="70.25" y1="319.92" x2="70.25" y2="319.24" stroke="#3a3a3a" stroke-width="0.8"/>
<line x1="68.55" y1="319.24" x2="71.95" y2="319.24" stroke="#3a3a3a" stroke-width="1"/>
<line x1="71.05" y1="324.67" x2="74.45" y2="324.67" stroke="#3a3a3a" stroke-width="1"/>
<line x1="73.55" y1="348.77" x2="76.95" y2="348.77" stroke="#3a3a3a" stroke-width="1"/>
<line x1="76.05" y1="369.14" x2="79.45" y2="369.14" stroke="#3a3a3a" stroke-width="1"/>
<rect x="82.2" y="318.56" width="2.5" height="53.64" fill="url(#bgb)"/>
<rect x="84.7" y="325.35" width="2.5" height="46.85" fill="url(#bgr)"/>
<rect x="87.2" y="347.08" width="2.5" height="25.12" fill="url(#bgg)"/>
<rect x="89.7" y="369.48" width="2.5" height="2.72" fill="url(#bgp)"/>
<line x1="83.45" y1="318.56" x2="83.45" y2="317.88" stroke="#3a3a3a" stroke-width="0.8"/>
<line x1="81.75" y1="317.88" x2="85.15" y2="317.88" stroke="#3a3a3a" stroke-width="1"/>
<line x1="84.25" y1="325.35" x2="87.65" y2="325.35" stroke="#3a3a3a" stroke-width="1"/>
<line x1="86.75" y1="346.74" x2="90.15" y2="346.74" stroke="#3a3a3a" stroke-width="1"/>
<line x1="89.25" y1="369.14" x2="92.65" y2="369.14" stroke="#3a3a3a" stroke-width="1"/>
<rect x="95.4" y="319.24" width="2.5" height="52.96" fill="url(#bgb)"/>
<rect x="97.9" y="326.03" width="2.5" height="46.17" fill="url(#bgr)"/>
<rect x="100.4" y="348.44" width="2.5" height="23.77" fill="url(#bgg)"/>
<rect x="102.9" y="369.48" width="2.5" height="2.72" fill="url(#bgp)"/>
<line x1="96.65" y1="319.24" x2="96.65" y2="318.56" stroke="#3a3a3a" stroke-width="0.8"/>
<line x1="94.95" y1="318.56" x2="98.35" y2="318.56" stroke="#3a3a3a" stroke-width="1"/>
<line x1="97.45" y1="326.03" x2="100.85" y2="326.03" stroke="#3a3a3a" stroke-width="1"/>
<line x1="99.95" y1="348.1" x2="103.35" y2="348.1" stroke="#3a3a3a" stroke-width="1"/>
<line x1="102.45" y1="369.14" x2="105.85" y2="369.14" stroke="#3a3a3a" stroke-width="1"/>
<rect x="108.6" y="318.56" width="2.5" height="53.64" fill="url(#bgb)"/>
<rect x="111.1" y="321.61" width="2.5" height="50.59" fill="url(#bgr)"/>
<rect x="113.6" y="346.4" width="2.5" height="25.8" fill="url(#bgg)"/>
<rect x="116.1" y="369.48" width="2.5" height="2.72" fill="url(#bgp)"/>
<line x1="109.85" y1="318.56" x2="109.85" y2="317.2" stroke="#3a3a3a" stroke-width="0.8"/>
<line x1="108.15" y1="317.2" x2="111.55" y2="317.2" stroke="#3a3a3a" stroke-width="1"/>
<line x1="110.65" y1="321.27" x2="114.05" y2="321.27" stroke="#3a3a3a" stroke-width="1"/>
<line x1="114.85" y1="346.4" x2="114.85" y2="345.72" stroke="#3a3a3a" stroke-width="0.8"/>
<line x1="113.15" y1="345.72" x2="116.55" y2="345.72" stroke="#3a3a3a" stroke-width="1"/>
<line x1="115.65" y1="369.14" x2="119.05" y2="369.14" stroke="#3a3a3a" stroke-width="1"/>
<rect x="121.8" y="326.03" width="2.5" height="46.17" fill="url(#bgb)"/>
<rect x="124.3" y="333.5" width="2.5" height="38.7" fill="url(#bgr)"/>
<rect x="126.8" y="355.22" width="2.5" height="16.98" fill="url(#bgg)"/>
<rect x="129.3" y="370.16" width="2.5" height="2.04" fill="url(#bgp)"/>
<line x1="121.35" y1="326.03" x2="124.75" y2="326.03" stroke="#3a3a3a" stroke-width="1"/>
<line x1="125.55" y1="333.5" x2="125.55" y2="332.82" stroke="#3a3a3a" stroke-width="0.8"/>
<line x1="123.85" y1="332.82" x2="127.25" y2="332.82" stroke="#3a3a3a" stroke-width="1"/>
<line x1="126.35" y1="355.22" x2="129.75" y2="355.22" stroke="#3a3a3a" stroke-width="1"/>
<line x1="130.55" y1="370.16" x2="130.55" y2="369.82" stroke="#3a3a3a" stroke-width="0.8"/>
<line x1="128.85" y1="369.82" x2="132.25" y2="369.82" stroke="#3a3a3a" stroke-width="1"/>
<line x1="41" y1="290.72" x2="41" y2="372.2" stroke="#9a9a9a" stroke-width="0.9"/>
<line x1="41" y1="372.2" x2="134.8" y2="372.2" stroke="#9a9a9a" stroke-width="0.9"/>
<text transform="translate(51.19,378) rotate(-90)" font-size="8.3" text-anchor="end" textLength="4.02" lengthAdjust="spacingAndGlyphs">0</text>
<text transform="translate(64.39,378) rotate(-90)" font-size="8.3" text-anchor="end" textLength="10.04" lengthAdjust="spacingAndGlyphs">0.3</text>
<text transform="translate(77.59,378) rotate(-90)" font-size="8.3" text-anchor="end" textLength="10.04" lengthAdjust="spacingAndGlyphs">0.6</text>
<text transform="translate(90.79,378) rotate(-90)" font-size="8.3" text-anchor="end" textLength="14.05" lengthAdjust="spacingAndGlyphs">1.25</text>
<text transform="translate(103.99,378) rotate(-90)" font-size="8.3" text-anchor="end" textLength="10.04" lengthAdjust="spacingAndGlyphs">2.5</text>
<text transform="translate(117.19,378) rotate(-90)" font-size="8.3" text-anchor="end" textLength="4.02" lengthAdjust="spacingAndGlyphs">5</text>
<text transform="translate(130.39,378) rotate(-90)" font-size="8.3" text-anchor="end" textLength="8.03" lengthAdjust="spacingAndGlyphs">10</text>
<rect x="135.9" y="316.3" width="4.5" height="4.4" fill="#6f95c8"/>
<text x="142.3" y="321.07" font-size="8.8" textLength="4.21" lengthAdjust="spacingAndGlyphs">0</text>
<rect x="135.9" y="329.9" width="4.5" height="4.4" fill="#d05a62"/>
<text x="142.9" y="334.67" font-size="8.8" textLength="6.4" lengthAdjust="spacingAndGlyphs">BI</text>
<text x="154.9" y="334.67" font-size="8.8" textLength="18.94" lengthAdjust="spacingAndGlyphs">0.625</text>
<rect x="135.9" y="342.9" width="4.5" height="4.4" fill="#c8d47e"/>
<text x="142.9" y="347.67" font-size="8.8" textLength="6.4" lengthAdjust="spacingAndGlyphs">BI</text>
<text x="151.7" y="347.67" font-size="8.8" textLength="14.73" lengthAdjust="spacingAndGlyphs">1.25</text>
<rect x="135.9" y="355.9" width="4.5" height="4.4" fill="#8c78b4"/>
<text x="142.9" y="360.67" font-size="8.8" textLength="6.4" lengthAdjust="spacingAndGlyphs">BI</text>
<text x="151.7" y="360.67" font-size="8.8" textLength="10.52" lengthAdjust="spacingAndGlyphs">2.5</text>
<text x="65.2" y="284.6" font-size="9.8" font-weight="bold" textLength="21.5" lengthAdjust="spacingAndGlyphs" xml:space="preserve">JJN3</text>
<text transform="translate(6.6,332.2) rotate(-90)" font-size="8.0" font-weight="bold" text-anchor="middle" textLength="77.0" lengthAdjust="spacingAndGlyphs">Viability (% untreated</text>
<text transform="translate(17.2,332.2) rotate(-90)" font-size="8.0" font-weight="bold" text-anchor="middle" textLength="27.5" lengthAdjust="spacingAndGlyphs">control)</text>
<text x="48.2" y="411.5" font-size="10.1" textLength="93.5" lengthAdjust="spacingAndGlyphs" xml:space="preserve">Dexamethasone  μM</text>
<line x1="217" y1="376.6" x2="220.9" y2="376.6" stroke="#9a9a9a" stroke-width="0.9"/>
<line x1="220.9" y1="362.84" x2="305" y2="362.84" stroke="#a4a4a4" stroke-width="1"/>
<line x1="217" y1="362.84" x2="220.9" y2="362.84" stroke="#9a9a9a" stroke-width="0.9"/>
<line x1="220.9" y1="349.08" x2="305" y2="349.08" stroke="#a4a4a4" stroke-width="1"/>
<line x1="217" y1="349.08" x2="220.9" y2="349.08" stroke="#9a9a9a" stroke-width="0.9"/>
<line x1="220.9" y1="335.32" x2="305" y2="335.32" stroke="#a4a4a4" stroke-width="1"/>
<line x1="217" y1="335.32" x2="220.9" y2="335.32" stroke="#9a9a9a" stroke-width="0.9"/>
<line x1="220.9" y1="321.56" x2="305" y2="321.56" stroke="#a4a4a4" stroke-width="1"/>
<line x1="217" y1="321.56" x2="220.9" y2="321.56" stroke="#9a9a9a" stroke-width="0.9"/>
<line x1="220.9" y1="307.8" x2="305" y2="307.8" stroke="#a4a4a4" stroke-width="1"/>
<line x1="217" y1="307.8" x2="220.9" y2="307.8" stroke="#9a9a9a" stroke-width="0.9"/>
<line x1="220.9" y1="294.04" x2="305" y2="294.04" stroke="#a4a4a4" stroke-width="1"/>
<line x1="217" y1="294.04" x2="220.9" y2="294.04" stroke="#9a9a9a" stroke-width="0.9"/>
<text x="213.4" y="379.89" font-size="8.3" text-anchor="end" textLength="4.02" lengthAdjust="spacingAndGlyphs">0</text>
<text x="213.4" y="366.13" font-size="8.3" text-anchor="end" textLength="10.04" lengthAdjust="spacingAndGlyphs">0.2</text>
<text x="213.4" y="352.37" font-size="8.3" text-anchor="end" textLength="10.04" lengthAdjust="spacingAndGlyphs">0.4</text>
<text x="213.4" y="338.61" font-size="8.3" text-anchor="end" textLength="10.04" lengthAdjust="spacingAndGlyphs">0.6</text>
<text x="213.4" y="324.85" font-size="8.3" text-anchor="end" textLength="10.04" lengthAdjust="spacingAndGlyphs">0.8</text>
<text x="213.4" y="311.09" font-size="8.3" text-anchor="end" textLength="4.02" lengthAdjust="spacingAndGlyphs">1</text>
<text x="213.4" y="297.33" font-size="8.3" text-anchor="end" textLength="10.04" lengthAdjust="spacingAndGlyphs">1.2</text>
<rect x="222.16" y="307.11" width="2.35" height="69.49" fill="url(#bgb)"/>
<rect x="224.51" y="311.24" width="2.35" height="65.36" fill="url(#bgr)"/>
<rect x="226.86" y="338.07" width="2.35" height="38.53" fill="url(#bgg)"/>
<rect x="229.21" y="373.16" width="2.35" height="3.44" fill="url(#bgp)"/>
<line x1="223.34" y1="307.11" x2="223.34" y2="305.74" stroke="#3a3a3a" stroke-width="0.8"/>
<line x1="221.69" y1="305.74" x2="224.99" y2="305.74" stroke="#3a3a3a" stroke-width="1"/>
<line x1="225.69" y1="311.24" x2="225.69" y2="310.55" stroke="#3a3a3a" stroke-width="0.8"/>
<line x1="224.04" y1="310.55" x2="227.34" y2="310.55" stroke="#3a3a3a" stroke-width="1"/>
<line x1="228.04" y1="338.07" x2="228.04" y2="337.38" stroke="#3a3a3a" stroke-width="0.8"/>
<line x1="226.39" y1="337.38" x2="229.69" y2="337.38" stroke="#3a3a3a" stroke-width="1"/>
<line x1="230.39" y1="373.16" x2="230.39" y2="372.47" stroke="#3a3a3a" stroke-width="0.8"/>
<line x1="228.74" y1="372.47" x2="232.04" y2="372.47" stroke="#3a3a3a" stroke-width="1"/>
<rect x="234.08" y="303.67" width="2.35" height="72.93" fill="url(#bgb)"/>
<rect x="236.43" y="307.8" width="2.35" height="68.8" fill="url(#bgr)"/>
<rect x="238.78" y="338.07" width="2.35" height="38.53" fill="url(#bgg)"/>
<rect x="241.13" y="373.16" width="2.35" height="3.44" fill="url(#bgp)"/>
<line x1="235.26" y1="303.67" x2="235.26" y2="302.3" stroke="#3a3a3a" stroke-width="0.8"/>
<line x1="233.61" y1="302.3" x2="236.91" y2="302.3" stroke="#3a3a3a" stroke-width="1"/>
<line x1="237.61" y1="307.8" x2="237.61" y2="307.11" stroke="#3a3a3a" stroke-width="0.8"/>
<line x1="235.96" y1="307.11" x2="239.26" y2="307.11" stroke="#3a3a3a" stroke-width="1"/>
<line x1="239.96" y1="338.07" x2="239.96" y2="337.38" stroke="#3a3a3a" stroke-width="0.8"/>
<line x1="238.31" y1="337.38" x2="241.61" y2="337.38" stroke="#3a3a3a" stroke-width="1"/>
<line x1="242.31" y1="373.16" x2="242.31" y2="372.47" stroke="#3a3a3a" stroke-width="0.8"/>
<line x1="240.66" y1="372.47" x2="243.96" y2="372.47" stroke="#3a3a3a" stroke-width="1"/>
<rect x="246" y="311.24" width="2.35" height="65.36" fill="url(#bgb)"/>
<rect x="248.35" y="313.99" width="2.35" height="62.61" fill="url(#bgr)"/>
<rect x="250.7" y="340.14" width="2.35" height="36.46" fill="url(#bgg)"/>
<rect x="253.05" y="373.16" width="2.35" height="3.44" fill="url(#bgp)"/>
<line x1="247.18" y1="311.24" x2="247.18" y2="309.86" stroke="#3a3a3a" stroke-width="0.8"/>
<line x1="245.53" y1="309.86" x2="248.83" y2="309.86" stroke="#3a3a3a" stroke-width="1"/>
<line x1="249.53" y1="313.99" x2="249.53" y2="313.3" stroke="#3a3a3a" stroke-width="0.8"/>
<line x1="247.88" y1="313.3" x2="251.18" y2="313.3" stroke="#3a3a3a" stroke-width="1"/>
<line x1="251.88" y1="340.14" x2="251.88" y2="339.45" stroke="#3a3a3a" stroke-width="0.8"/>
<line x1="250.23" y1="339.45" x2="253.53" y2="339.45" stroke="#3a3a3a" stroke-width="1"/>
<line x1="254.23" y1="373.16" x2="254.23" y2="372.47" stroke="#3a3a3a" stroke-width="0.8"/>
<line x1="252.58" y1="372.47" x2="255.88" y2="372.47" stroke="#3a3a3a" stroke-width="1"/>
<rect x="257.92" y="305.05" width="2.35" height="71.55" fill="url(#bgb)"/>
<rect x="260.27" y="308.49" width="2.35" height="68.11" fill="url(#bgr)"/>
<rect x="262.62" y="340.14" width="2.35" height="36.46" fill="url(#bgg)"/>
<rect x="264.97" y="373.16" width="2.35" height="3.44" fill="url(#bgp)"/>
<line x1="259.1" y1="305.05" x2="259.1" y2="302.98" stroke="#3a3a3a" stroke-width="0.8"/>
<line x1="257.45" y1="302.98" x2="260.75" y2="302.98" stroke="#3a3a3a" stroke-width="1"/>
<line x1="261.45" y1="308.49" x2="261.45" y2="307.8" stroke="#3a3a3a" stroke-width="0.8"/>
<line x1="259.8" y1="307.8" x2="263.1" y2="307.8" stroke="#3a3a3a" stroke-width="1"/>
<line x1="263.8" y1="340.14" x2="263.8" y2="339.45" stroke="#3a3a3a" stroke-width="0.8"/>
<line x1="262.15" y1="339.45" x2="265.44" y2="339.45" stroke="#3a3a3a" stroke-width="1"/>
<line x1="266.15" y1="373.16" x2="266.15" y2="372.47" stroke="#3a3a3a" stroke-width="0.8"/>
<line x1="264.5" y1="372.47" x2="267.8" y2="372.47" stroke="#3a3a3a" stroke-width="1"/>
<rect x="269.84" y="305.74" width="2.35" height="70.86" fill="url(#bgb)"/>
<rect x="272.19" y="309.18" width="2.35" height="67.42" fill="url(#bgr)"/>
<rect x="274.54" y="347.02" width="2.35" height="29.58" fill="url(#bgg)"/>
<rect x="276.89" y="373.16" width="2.35" height="3.44" fill="url(#bgp)"/>
<line x1="271.02" y1="305.74" x2="271.02" y2="304.36" stroke="#3a3a3a" stroke-width="0.8"/>
<line x1="269.37" y1="304.36" x2="272.67" y2="304.36" stroke="#3a3a3a" stroke-width="1"/>
<line x1="273.37" y1="309.18" x2="273.37" y2="308.49" stroke="#3a3a3a" stroke-width="0.8"/>
<line x1="271.72" y1="308.49" x2="275.02" y2="308.49" stroke="#3a3a3a" stroke-width="1"/>
<line x1="275.72" y1="347.02" x2="275.72" y2="344.26" stroke="#3a3a3a" stroke-width="0.8"/>
<line x1="274.07" y1="344.26" x2="277.37" y2="344.26" stroke="#3a3a3a" stroke-width="1"/>
<line x1="278.07" y1="373.16" x2="278.07" y2="372.47" stroke="#3a3a3a" stroke-width="0.8"/>
<line x1="276.42" y1="372.47" x2="279.72" y2="372.47" stroke="#3a3a3a" stroke-width="1"/>
<rect x="281.76" y="309.18" width="2.35" height="67.42" fill="url(#bgb)"/>
<rect x="284.11" y="318.12" width="2.35" height="58.48" fill="url(#bgr)"/>
<rect x="286.46" y="364.9" width="2.35" height="11.7" fill="url(#bgg)"/>
<rect x="288.81" y="373.85" width="2.35" height="2.75" fill="url(#bgp)"/>
<line x1="282.94" y1="309.18" x2="282.94" y2="307.8" stroke="#3a3a3a" stroke-width="0.8"/>
<line x1="281.29" y1="307.8" x2="284.59" y2="307.8" stroke="#3a3a3a" stroke-width="1"/>
<line x1="285.29" y1="318.12" x2="285.29" y2="316.74" stroke="#3a3a3a" stroke-width="0.8"/>
<line x1="283.64" y1="316.74" x2="286.94" y2="316.74" stroke="#3a3a3a" stroke-width="1"/>
<line x1="287.64" y1="364.9" x2="287.64" y2="364.22" stroke="#3a3a3a" stroke-width="0.8"/>
<line x1="285.99" y1="364.22" x2="289.29" y2="364.22" stroke="#3a3a3a" stroke-width="1"/>
<line x1="289.99" y1="373.85" x2="289.99" y2="373.16" stroke="#3a3a3a" stroke-width="0.8"/>
<line x1="288.34" y1="373.16" x2="291.64" y2="373.16" stroke="#3a3a3a" stroke-width="1"/>
<rect x="293.68" y="327.06" width="2.35" height="49.54" fill="url(#bgb)"/>
<rect x="296.03" y="362.84" width="2.35" height="13.76" fill="url(#bgr)"/>
<rect x="298.38" y="373.16" width="2.35" height="3.44" fill="url(#bgg)"/>
<rect x="300.73" y="374.54" width="2.35" height="2.06" fill="url(#bgp)"/>
<line x1="294.86" y1="327.06" x2="294.86" y2="324.31" stroke="#3a3a3a" stroke-width="0.8"/>
<line x1="293.21" y1="324.31" x2="296.5" y2="324.31" stroke="#3a3a3a" stroke-width="1"/>
<line x1="297.21" y1="362.84" x2="297.21" y2="360.09" stroke="#3a3a3a" stroke-width="0.8"/>
<line x1="295.56" y1="360.09" x2="298.86" y2="360.09" stroke="#3a3a3a" stroke-width="1"/>
<line x1="299.56" y1="373.16" x2="299.56" y2="372.47" stroke="#3a3a3a" stroke-width="0.8"/>
<line x1="297.91" y1="372.47" x2="301.2" y2="372.47" stroke="#3a3a3a" stroke-width="1"/>
<line x1="301.91" y1="374.54" x2="301.91" y2="373.85" stroke="#3a3a3a" stroke-width="0.8"/>
<line x1="300.26" y1="373.85" x2="303.56" y2="373.85" stroke="#3a3a3a" stroke-width="1"/>
<line x1="220.9" y1="294.04" x2="220.9" y2="376.6" stroke="#9a9a9a" stroke-width="0.9"/>
<line x1="220.9" y1="376.6" x2="305" y2="376.6" stroke="#9a9a9a" stroke-width="0.9"/>
<text x="226.86" y="391.5" font-size="8.3" text-anchor="middle" textLength="4.02" lengthAdjust="spacingAndGlyphs">0</text>
<text x="238.78" y="391.5" font-size="8.3" text-anchor="middle" textLength="10.04" lengthAdjust="spacingAndGlyphs">1.5</text>
<text x="250.7" y="391.5" font-size="8.3" text-anchor="middle" textLength="4.02" lengthAdjust="spacingAndGlyphs">2</text>
<text x="262.62" y="391.5" font-size="8.3" text-anchor="middle" textLength="4.02" lengthAdjust="spacingAndGlyphs">3</text>
<text x="274.54" y="391.5" font-size="8.3" text-anchor="middle" textLength="4.02" lengthAdjust="spacingAndGlyphs">4</text>
<text x="286.46" y="391.5" font-size="8.3" text-anchor="middle" textLength="4.02" lengthAdjust="spacingAndGlyphs">6</text>
<text x="298.38" y="391.5" font-size="8.3" text-anchor="middle" textLength="4.02" lengthAdjust="spacingAndGlyphs">8</text>
<rect x="307.9" y="310.8" width="4.5" height="4.4" fill="#6f95c8"/>
<text x="314.4" y="315.57" font-size="8.8" textLength="4.21" lengthAdjust="spacingAndGlyphs">0</text>
<rect x="307.9" y="328.1" width="4.5" height="4.4" fill="#d05a62"/>
<text x="314.4" y="332.87" font-size="8.8" textLength="6.4" lengthAdjust="spacingAndGlyphs">BI</text>
<text x="327.1" y="332.87" font-size="8.8" textLength="18.94" lengthAdjust="spacingAndGlyphs">0.625</text>
<rect x="307.9" y="345.3" width="4.5" height="4.4" fill="#c8d47e"/>
<text x="314.4" y="350.07" font-size="8.8" textLength="6.4" lengthAdjust="spacingAndGlyphs">BI</text>
<text x="323.8" y="350.07" font-size="8.8" textLength="14.73" lengthAdjust="spacingAndGlyphs">1.25</text>
<rect x="307.9" y="362.9" width="4.5" height="4.4" fill="#8c78b4"/>
<text x="314.4" y="367.67" font-size="8.8" textLength="6.4" lengthAdjust="spacingAndGlyphs">BI</text>
<text x="323.8" y="367.67" font-size="8.8" textLength="10.52" lengthAdjust="spacingAndGlyphs">2.5</text>
<text x="247.1" y="284.6" font-size="9.8" font-weight="bold" textLength="21.8" lengthAdjust="spacingAndGlyphs" xml:space="preserve">JJN3</text>
<text transform="translate(187.3,336) rotate(-90)" font-size="8.0" font-weight="bold" text-anchor="middle" textLength="77.0" lengthAdjust="spacingAndGlyphs">Viability (% untreated</text>
<text transform="translate(197.8,336) rotate(-90)" font-size="8.0" font-weight="bold" text-anchor="middle" textLength="27.5" lengthAdjust="spacingAndGlyphs">control)</text>
<text x="238" y="410.9" font-size="10.1" textLength="71.4" lengthAdjust="spacingAndGlyphs" xml:space="preserve">Bortezomib  nM</text>
<line x1="391.5" y1="377.9" x2="394.8" y2="377.9" stroke="#9a9a9a" stroke-width="0.9"/>
<line x1="394.8" y1="363.95" x2="480.5" y2="363.95" stroke="#a4a4a4" stroke-width="1"/>
<line x1="391.5" y1="363.95" x2="394.8" y2="363.95" stroke="#9a9a9a" stroke-width="0.9"/>
<line x1="394.8" y1="350" x2="480.5" y2="350" stroke="#a4a4a4" stroke-width="1"/>
<line x1="391.5" y1="350" x2="394.8" y2="350" stroke="#9a9a9a" stroke-width="0.9"/>
<line x1="394.8" y1="336.05" x2="480.5" y2="336.05" stroke="#a4a4a4" stroke-width="1"/>
<line x1="391.5" y1="336.05" x2="394.8" y2="336.05" stroke="#9a9a9a" stroke-width="0.9"/>
<line x1="394.8" y1="322.1" x2="480.5" y2="322.1" stroke="#a4a4a4" stroke-width="1"/>
<line x1="391.5" y1="322.1" x2="394.8" y2="322.1" stroke="#9a9a9a" stroke-width="0.9"/>
<line x1="394.8" y1="308.15" x2="480.5" y2="308.15" stroke="#a4a4a4" stroke-width="1"/>
<line x1="391.5" y1="308.15" x2="394.8" y2="308.15" stroke="#9a9a9a" stroke-width="0.9"/>
<line x1="394.8" y1="294.2" x2="480.5" y2="294.2" stroke="#a4a4a4" stroke-width="1"/>
<line x1="391.5" y1="294.2" x2="394.8" y2="294.2" stroke="#9a9a9a" stroke-width="0.9"/>
<text x="386.3" y="381.19" font-size="8.3" text-anchor="end" textLength="4.02" lengthAdjust="spacingAndGlyphs">0</text>
<text x="386.3" y="367.24" font-size="8.3" text-anchor="end" textLength="10.04" lengthAdjust="spacingAndGlyphs">0.2</text>
<text x="386.3" y="353.29" font-size="8.3" text-anchor="end" textLength="10.04" lengthAdjust="spacingAndGlyphs">0.4</text>
<text x="386.3" y="339.34" font-size="8.3" text-anchor="end" textLength="10.04" lengthAdjust="spacingAndGlyphs">0.6</text>
<text x="386.3" y="325.39" font-size="8.3" text-anchor="end" textLength="10.04" lengthAdjust="spacingAndGlyphs">0.8</text>
<text x="386.3" y="311.44" font-size="8.3" text-anchor="end" textLength="4.02" lengthAdjust="spacingAndGlyphs">1</text>
<text x="386.3" y="297.49" font-size="8.3" text-anchor="end" textLength="10.04" lengthAdjust="spacingAndGlyphs">1.2</text>
<rect x="396.24" y="308.15" width="2.35" height="69.75" fill="url(#bgb)"/>
<rect x="398.59" y="312.33" width="2.35" height="65.56" fill="url(#bgr)"/>
<rect x="400.94" y="336.05" width="2.35" height="41.85" fill="url(#bgg)"/>
<rect x="403.29" y="374.41" width="2.35" height="3.49" fill="url(#bgp)"/>
<line x1="397.41" y1="308.15" x2="397.41" y2="301.17" stroke="#3a3a3a" stroke-width="0.8"/>
<line x1="395.71" y1="301.17" x2="399.11" y2="301.17" stroke="#3a3a3a" stroke-width="1"/>
<line x1="399.76" y1="312.33" x2="399.76" y2="310.94" stroke="#3a3a3a" stroke-width="0.8"/>
<line x1="398.06" y1="310.94" x2="401.46" y2="310.94" stroke="#3a3a3a" stroke-width="1"/>
<line x1="402.11" y1="336.05" x2="402.11" y2="335.35" stroke="#3a3a3a" stroke-width="0.8"/>
<line x1="400.41" y1="335.35" x2="403.81" y2="335.35" stroke="#3a3a3a" stroke-width="1"/>
<line x1="404.46" y1="374.41" x2="404.46" y2="373.02" stroke="#3a3a3a" stroke-width="0.8"/>
<line x1="402.76" y1="373.02" x2="406.16" y2="373.02" stroke="#3a3a3a" stroke-width="1"/>
<rect x="408.51" y="304.66" width="2.35" height="73.24" fill="url(#bgb)"/>
<rect x="410.86" y="304.66" width="2.35" height="73.24" fill="url(#bgr)"/>
<rect x="413.21" y="334.65" width="2.35" height="43.24" fill="url(#bgg)"/>
<rect x="415.56" y="374.41" width="2.35" height="3.49" fill="url(#bgp)"/>
<line x1="409.68" y1="304.66" x2="409.68" y2="303.96" stroke="#3a3a3a" stroke-width="0.8"/>
<line x1="407.98" y1="303.96" x2="411.38" y2="303.96" stroke="#3a3a3a" stroke-width="1"/>
<line x1="410.33" y1="304.66" x2="413.73" y2="304.66" stroke="#3a3a3a" stroke-width="1"/>
<line x1="414.38" y1="334.65" x2="414.38" y2="333.96" stroke="#3a3a3a" stroke-width="0.8"/>
<line x1="412.68" y1="333.96" x2="416.08" y2="333.96" stroke="#3a3a3a" stroke-width="1"/>
<line x1="416.73" y1="374.41" x2="416.73" y2="373.02" stroke="#3a3a3a" stroke-width="0.8"/>
<line x1="415.03" y1="373.02" x2="418.43" y2="373.02" stroke="#3a3a3a" stroke-width="1"/>
<rect x="420.78" y="309.54" width="2.35" height="68.36" fill="url(#bgb)"/>
<rect x="423.13" y="310.24" width="2.35" height="67.66" fill="url(#bgr)"/>
<rect x="425.48" y="336.05" width="2.35" height="41.85" fill="url(#bgg)"/>
<rect x="427.83" y="374.41" width="2.35" height="3.49" fill="url(#bgp)"/>
<line x1="421.95" y1="309.54" x2="421.95" y2="308.85" stroke="#3a3a3a" stroke-width="0.8"/>
<line x1="420.25" y1="308.85" x2="423.65" y2="308.85" stroke="#3a3a3a" stroke-width="1"/>
<line x1="424.3" y1="310.24" x2="424.3" y2="309.54" stroke="#3a3a3a" stroke-width="0.8"/>
<line x1="422.6" y1="309.54" x2="426" y2="309.54" stroke="#3a3a3a" stroke-width="1"/>
<line x1="426.65" y1="336.05" x2="426.65" y2="335.35" stroke="#3a3a3a" stroke-width="0.8"/>
<line x1="424.95" y1="335.35" x2="428.35" y2="335.35" stroke="#3a3a3a" stroke-width="1"/>
<line x1="429" y1="374.41" x2="429" y2="373.02" stroke="#3a3a3a" stroke-width="0.8"/>
<line x1="427.3" y1="373.02" x2="430.7" y2="373.02" stroke="#3a3a3a" stroke-width="1"/>
<rect x="433.05" y="311.64" width="2.35" height="66.26" fill="url(#bgb)"/>
<rect x="435.4" y="310.94" width="2.35" height="66.96" fill="url(#bgr)"/>
<rect x="437.75" y="343.02" width="2.35" height="34.88" fill="url(#bgg)"/>
<rect x="440.1" y="374.41" width="2.35" height="3.49" fill="url(#bgp)"/>
<line x1="432.52" y1="311.64" x2="435.92" y2="311.64" stroke="#3a3a3a" stroke-width="1"/>
<line x1="436.57" y1="310.94" x2="436.57" y2="310.24" stroke="#3a3a3a" stroke-width="0.8"/>
<line x1="434.87" y1="310.24" x2="438.27" y2="310.24" stroke="#3a3a3a" stroke-width="1"/>
<line x1="438.92" y1="343.02" x2="438.92" y2="341.63" stroke="#3a3a3a" stroke-width="0.8"/>
<line x1="437.22" y1="341.63" x2="440.62" y2="341.63" stroke="#3a3a3a" stroke-width="1"/>
<line x1="441.27" y1="374.41" x2="441.27" y2="373.02" stroke="#3a3a3a" stroke-width="0.8"/>
<line x1="439.57" y1="373.02" x2="442.97" y2="373.02" stroke="#3a3a3a" stroke-width="1"/>
<rect x="445.31" y="321.4" width="2.35" height="56.5" fill="url(#bgb)"/>
<rect x="447.67" y="329.07" width="2.35" height="48.82" fill="url(#bgr)"/>
<rect x="450.01" y="351.39" width="2.35" height="26.5" fill="url(#bgg)"/>
<rect x="452.37" y="374.41" width="2.35" height="3.49" fill="url(#bgp)"/>
<line x1="444.79" y1="321.4" x2="448.19" y2="321.4" stroke="#3a3a3a" stroke-width="1"/>
<line x1="448.84" y1="329.07" x2="448.84" y2="327.68" stroke="#3a3a3a" stroke-width="0.8"/>
<line x1="447.14" y1="327.68" x2="450.54" y2="327.68" stroke="#3a3a3a" stroke-width="1"/>
<line x1="451.19" y1="351.39" x2="451.19" y2="350" stroke="#3a3a3a" stroke-width="0.8"/>
<line x1="449.49" y1="350" x2="452.89" y2="350" stroke="#3a3a3a" stroke-width="1"/>
<line x1="453.54" y1="374.41" x2="453.54" y2="373.02" stroke="#3a3a3a" stroke-width="0.8"/>
<line x1="451.84" y1="373.02" x2="455.24" y2="373.02" stroke="#3a3a3a" stroke-width="1"/>
<rect x="457.59" y="350.7" width="2.35" height="27.2" fill="url(#bgb)"/>
<rect x="459.94" y="356.97" width="2.35" height="20.93" fill="url(#bgr)"/>
<rect x="462.29" y="367.44" width="2.35" height="10.46" fill="url(#bgg)"/>
<rect x="464.64" y="374.41" width="2.35" height="3.49" fill="url(#bgp)"/>
<line x1="457.06" y1="350.7" x2="460.46" y2="350.7" stroke="#3a3a3a" stroke-width="1"/>
<line x1="461.11" y1="356.97" x2="461.11" y2="356.28" stroke="#3a3a3a" stroke-width="0.8"/>
<line x1="459.41" y1="356.28" x2="462.81" y2="356.28" stroke="#3a3a3a" stroke-width="1"/>
<line x1="463.46" y1="367.44" x2="463.46" y2="366.04" stroke="#3a3a3a" stroke-width="0.8"/>
<line x1="461.76" y1="366.04" x2="465.16" y2="366.04" stroke="#3a3a3a" stroke-width="1"/>
<line x1="465.81" y1="374.41" x2="465.81" y2="373.02" stroke="#3a3a3a" stroke-width="0.8"/>
<line x1="464.11" y1="373.02" x2="467.51" y2="373.02" stroke="#3a3a3a" stroke-width="1"/>
<rect x="469.86" y="370.23" width="2.35" height="7.67" fill="url(#bgb)"/>
<rect x="472.21" y="370.92" width="2.35" height="6.98" fill="url(#bgr)"/>
<rect x="474.56" y="372.32" width="2.35" height="5.58" fill="url(#bgg)"/>
<rect x="476.91" y="374.41" width="2.35" height="3.49" fill="url(#bgp)"/>
<line x1="469.33" y1="370.23" x2="472.73" y2="370.23" stroke="#3a3a3a" stroke-width="1"/>
<line x1="473.38" y1="370.92" x2="473.38" y2="370.23" stroke="#3a3a3a" stroke-width="0.8"/>
<line x1="471.68" y1="370.23" x2="475.08" y2="370.23" stroke="#3a3a3a" stroke-width="1"/>
<line x1="475.73" y1="372.32" x2="475.73" y2="371.62" stroke="#3a3a3a" stroke-width="0.8"/>
<line x1="474.03" y1="371.62" x2="477.43" y2="371.62" stroke="#3a3a3a" stroke-width="1"/>
<line x1="478.08" y1="374.41" x2="478.08" y2="373.71" stroke="#3a3a3a" stroke-width="0.8"/>
<line x1="476.38" y1="373.71" x2="479.78" y2="373.71" stroke="#3a3a3a" stroke-width="1"/>
<line x1="394.8" y1="294.2" x2="394.8" y2="377.9" stroke="#9a9a9a" stroke-width="0.9"/>
<line x1="394.8" y1="377.9" x2="480.5" y2="377.9" stroke="#9a9a9a" stroke-width="0.9"/>
<text transform="translate(404.52,384) rotate(-90)" font-size="8.3" text-anchor="end" textLength="4.02" lengthAdjust="spacingAndGlyphs">0</text>
<text transform="translate(416.79,384) rotate(-90)" font-size="8.3" text-anchor="end" textLength="18.07" lengthAdjust="spacingAndGlyphs">0.075</text>
<text transform="translate(429.06,384) rotate(-90)" font-size="8.3" text-anchor="end" textLength="14.05" lengthAdjust="spacingAndGlyphs">0.15</text>
<text transform="translate(441.33,384) rotate(-90)" font-size="8.3" text-anchor="end" textLength="10.04" lengthAdjust="spacingAndGlyphs">0.3</text>
<text transform="translate(453.6,384) rotate(-90)" font-size="8.3" text-anchor="end" textLength="10.04" lengthAdjust="spacingAndGlyphs">0.6</text>
<text transform="translate(465.87,384) rotate(-90)" font-size="8.3" text-anchor="end" textLength="14.05" lengthAdjust="spacingAndGlyphs">1.25</text>
<text transform="translate(478.14,384) rotate(-90)" font-size="8.3" text-anchor="end" textLength="10.04" lengthAdjust="spacingAndGlyphs">2.5</text>
<rect x="480.4" y="312.8" width="4.5" height="4.4" fill="#6f95c8"/>
<text x="487.2" y="317.57" font-size="8.8" textLength="4.21" lengthAdjust="spacingAndGlyphs">0</text>
<rect x="480.4" y="330.4" width="4.5" height="4.4" fill="#d05a62"/>
<text x="487.2" y="335.17" font-size="8.8" textLength="6.4" lengthAdjust="spacingAndGlyphs">BI</text>
<text x="500.4" y="335.17" font-size="8.8" textLength="18.94" lengthAdjust="spacingAndGlyphs">0.625</text>
<rect x="480.4" y="347.3" width="4.5" height="4.4" fill="#c8d47e"/>
<text x="487.2" y="352.07" font-size="8.8" textLength="6.4" lengthAdjust="spacingAndGlyphs">BI</text>
<text x="496.6" y="352.07" font-size="8.8" textLength="14.73" lengthAdjust="spacingAndGlyphs">1.25</text>
<rect x="480.4" y="364.9" width="4.5" height="4.4" fill="#8c78b4"/>
<text x="487.2" y="369.67" font-size="8.8" textLength="6.4" lengthAdjust="spacingAndGlyphs">BI</text>
<text x="496.6" y="369.67" font-size="8.8" textLength="10.52" lengthAdjust="spacingAndGlyphs">2.5</text>
<text x="408.3" y="284.6" font-size="9.8" font-weight="bold" textLength="21.5" lengthAdjust="spacingAndGlyphs" xml:space="preserve">JJN3</text>
<text transform="translate(361,336) rotate(-90)" font-size="8.0" font-weight="bold" text-anchor="middle" textLength="77.0" lengthAdjust="spacingAndGlyphs">Viability (% untreated</text>
<text transform="translate(371,336) rotate(-90)" font-size="8.0" font-weight="bold" text-anchor="middle" textLength="27.5" lengthAdjust="spacingAndGlyphs">control)</text>
<text x="416.4" y="410.3" font-size="10.1" textLength="66.3" lengthAdjust="spacingAndGlyphs" xml:space="preserve">Melphalan  μM</text>
<text x="1.1" y="8.8" font-size="10.2" font-weight="bold">A</text>
<text x="1.0" y="282" font-size="10.6" font-weight="bold">B</text>
</svg>
</body></html>
